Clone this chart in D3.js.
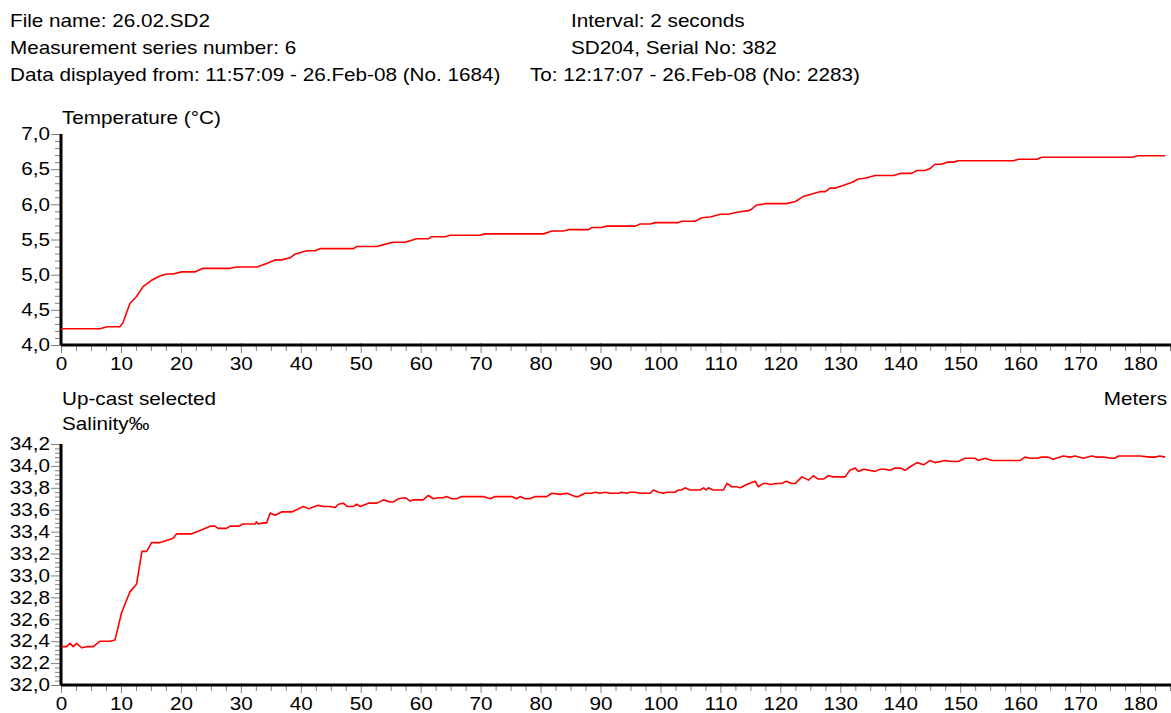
<!DOCTYPE html>
<html>
<head>
<meta charset="utf-8">
<script src="https://cdn.jsdelivr.net/npm/d3@7/dist/d3.min.js"></script>
<style>
  body { margin: 0; background: #fff; }
  svg text { font-family: Arial, 'Liberation Sans', sans-serif; fill: #000; }
</style>
</head>
<body>
<div id="chart"></div>
<script>
'use strict';

// header lines, as printed by the logger software
var headerLeft = [
  'File name: 26.02.SD2',
  'Measurement series number: 6',
  'Data displayed from: 11:57:09 - 26.Feb-08 (No. 1684)'
];
var headerRight = [
  'Interval: 2 seconds',
  'SD204, Serial No: 382',
  'To: 12:17:07 - 26.Feb-08 (No: 2283)'
];

var depthTicks = [0, 10, 20, 30, 40, 50, 60, 70, 80, 90, 100, 110, 120, 130, 140, 150, 160, 170, 180];
var tempTicks = [4.0, 4.5, 5.0, 5.5, 6.0, 6.5, 7.0];
var salTicks = [32.0, 32.2, 32.4, 32.6, 32.8, 33.0, 33.2, 33.4, 33.6, 33.8, 34.0, 34.2];

// temperature profile (depth m / deg C)
var tempDepth = [0, 6.5, 7.7, 9.8, 10.3, 11.5, 12.6, 13.7, 15.1, 16.5, 17.6, 18.7, 20.1, 22.4, 23.7, 28.2, 29.3, 32.7,
  34.3, 35.7, 36.8, 38.2, 39.0, 41.0, 42.4, 43.2, 48.8, 49.3, 52.7, 53.5, 55.4, 57.4, 58.5, 59.3, 61.3, 61.8, 64.1,
  64.9, 69.9, 70.7, 80.5, 81.9, 83.8, 84.6, 88.0, 88.5, 90.2, 91.0, 95.8, 96.6, 98.3, 99.1, 103.0, 103.5, 105.8,
  106.9, 108.3, 110.0, 111.3, 113.0, 114.7, 115.2, 116.0, 116.9, 117.7, 121.0, 122.5, 123.8, 126.6, 127.5, 128.3,
  129.1, 131.9, 133.0, 134.1, 135.8, 138.9, 140.0, 141.9, 142.8, 144.1, 145.0, 145.8, 146.9, 147.8, 148.9, 149.7,
  158.9, 159.7, 162.8, 163.6, 178.6, 179.7, 184.2];
var tempValue = [4.23, 4.23, 4.26, 4.26, 4.31, 4.59, 4.69, 4.83, 4.92, 4.98, 5.01, 5.01, 5.04, 5.04, 5.09, 5.09, 5.11, 5.11,
  5.16, 5.21, 5.21, 5.24, 5.29, 5.34, 5.34, 5.37, 5.37, 5.40, 5.40, 5.42, 5.46, 5.46, 5.49, 5.51, 5.51, 5.54, 5.54,
  5.56, 5.56, 5.58, 5.58, 5.62, 5.62, 5.64, 5.64, 5.67, 5.67, 5.69, 5.69, 5.72, 5.72, 5.74, 5.74, 5.76, 5.76,
  5.81, 5.82, 5.86, 5.86, 5.89, 5.91, 5.93, 5.99, 6.00, 6.01, 6.01, 6.04, 6.11, 6.18, 6.18, 6.23,
  6.23, 6.31, 6.36, 6.37, 6.41, 6.41, 6.44, 6.44, 6.48, 6.48, 6.51, 6.57, 6.57, 6.60, 6.60, 6.62,
  6.62, 6.64, 6.64, 6.67, 6.67, 6.69, 6.69];

// salinity profile (depth m / permille)
var salDepth = [0.1, 0.95, 1.5, 2.05, 2.6, 3.45, 4.3, 5.4, 6.5, 8.2, 9.0, 10.1, 11.5, 12.6, 13.5, 14.3, 15.1, 16.5, 17.6,
  18.2, 18.7, 19.3, 21.8, 23.2, 24.9, 25.7, 26.2, 27.6, 28.2, 29.6, 30.4, 32.4, 32.6, 32.9, 33.8, 34.3, 34.9, 35.7,
  36.8, 38.5, 39.3, 40.4, 41.3, 42.9, 43.8, 44.9, 45.7, 46.3, 47.1, 47.7, 48.8, 49.3, 49.9, 51.3, 52.7, 53.8, 54.9,
  55.4, 56.3, 57.4, 58.2, 58.8, 60.4, 61.3, 62.1, 62.9, 63.8, 64.3, 65.2, 66.0, 66.8, 70.4, 71.6, 72.4, 75.2, 76.0,
  76.6, 77.4, 78.2, 79.1, 81.0, 81.9, 83.3, 84.4, 85.8, 86.3, 87.4, 88.5, 89.1, 89.9, 90.8, 91.6, 93.0, 93.5, 94.4,
  94.9, 95.8, 96.6, 98.3, 98.8, 99.7, 100.5, 101.0, 102.4, 103.0, 103.5, 104.1, 104.9, 106.6, 107.2, 107.6, 108.0,
  108.8, 110.5, 111.1, 111.9, 112.7, 113.3, 114.4, 115.8, 116.3, 117.2, 117.7, 118.3, 119.4, 120.2, 121.0, 121.9,
  122.5, 123.6, 124.7, 125.5, 126.3, 127.2, 128.0, 128.8, 130.8, 131.6, 132.5, 133.0, 133.9, 135.8, 136.6, 137.5,
  138.3, 139.1, 140.0, 140.8, 141.6, 142.8, 143.9, 145.0, 145.8, 147.5, 148.6, 149.7, 150.8, 152.5, 153.0, 154.2,
  155.3, 160.0, 160.8, 161.7, 162.8, 163.6, 164.7, 165.5, 167.2, 168.3, 169.2, 170.5, 171.9, 172.8, 173.9, 175.3,
  175.8, 176.4, 180.0, 181.7, 182.5, 183.3, 184.2];
var salValue = [32.35, 32.35, 32.38, 32.35, 32.38, 32.34, 32.35, 32.35, 32.40, 32.40, 32.41, 32.66, 32.85, 32.92, 33.22, 33.22, 33.30, 33.30, 33.32,
  33.33, 33.34, 33.38, 33.38, 33.41, 33.45, 33.45, 33.43, 33.43, 33.45, 33.45, 33.47, 33.47, 33.49, 33.47, 33.48, 33.48, 33.57, 33.55,
  33.58, 33.58, 33.60, 33.63, 33.61, 33.64, 33.63, 33.63, 33.62, 33.65, 33.66, 33.63, 33.63, 33.65, 33.63, 33.66, 33.66, 33.69, 33.67,
  33.67, 33.70, 33.71, 33.68, 33.69, 33.69, 33.73, 33.70, 33.71, 33.71, 33.72, 33.70, 33.70, 33.72, 33.72, 33.70, 33.72, 33.72, 33.70,
  33.72, 33.70, 33.70, 33.72, 33.72, 33.75, 33.74, 33.75, 33.72, 33.72, 33.75, 33.75, 33.76, 33.75, 33.76, 33.75, 33.75, 33.76, 33.75,
  33.76, 33.76, 33.75, 33.75, 33.78, 33.76, 33.75, 33.76, 33.76, 33.78, 33.78, 33.80, 33.78, 33.78, 33.80, 33.78, 33.80,
  33.78, 33.78, 33.84, 33.81, 33.81, 33.80, 33.83, 33.86, 33.81, 33.84, 33.84, 33.83, 33.84, 33.84, 33.86, 33.84,
  33.84, 33.90, 33.87, 33.91, 33.88, 33.88, 33.91, 33.90, 33.90, 33.96, 33.98, 33.95, 33.97, 33.95, 33.97, 33.97,
  33.96, 33.98, 33.98, 33.96, 33.99, 34.03, 34.01, 34.05, 34.03, 34.05, 34.04, 34.04, 34.07, 34.07, 34.05, 34.07,
  34.05, 34.05, 34.08, 34.07, 34.07, 34.08, 34.08, 34.06, 34.09, 34.08, 34.09, 34.07, 34.09, 34.08, 34.08, 34.07,
  34.07, 34.09, 34.09, 34.08, 34.08, 34.09, 34.08];

var width = 1171, height = 713;
var fontSize = 18;
var stretchX = 1.15; // the original output has wide-set lettering

var svg = d3.select('#chart').append('svg')
  .attr('width', width)
  .attr('height', height);

var comma = function (f) {
  return function (v) { return f(v).replace('.', ','); };
};

// move x/y into a transform so the glyphs can be widened around their anchor
function stretch(sel) {
  sel.each(function () {
    var t = d3.select(this);
    var tx = +t.attr('x') || 0;
    var ty = +t.attr('y') || 0;
    t.attr('x', 0).attr('y', 0)
      .attr('transform', 'translate(' + tx + ',' + ty + ') scale(' + stretchX + ',1)');
  });
}

function label(x, y, txt, anchor) {
  svg.append('text')
    .attr('x', x).attr('y', y)
    .attr('font-size', fontSize)
    .attr('text-anchor', anchor || 'start')
    .text(txt)
    .call(stretch);
}

// header block
headerLeft.forEach(function (d, i) { label(10, 27 + i * 27, d); });
headerRight.forEach(function (d, i) { label(i == 2 ? 530 : 571, 27 + i * 27, d); });

var x = d3.scaleLinear().domain([0, 185]).range([61, 1170]);

function minorTicks(lo, hi, step, majors) {
  var out = [];
  var n = Math.round((hi - lo) / step);
  for (var i = 0; i <= n; i++) {
    var v = +(lo + i * step).toFixed(4);
    var isMajor = majors.some(function (m) { return Math.abs(m - v) < 1e-6; });
    if (!isMajor) out.push(v);
  }
  return out;
}

function drawPanel(opts) {
  var y = d3.scaleLinear().domain(opts.domain).range([opts.bottom, opts.top]);
  var g = svg.append('g');

  // x minor + major ticks
  g.append('g')
    .attr('transform', 'translate(0,' + (opts.bottom + 1) + ')')
    .call(d3.axisBottom(x).tickValues(minorTicks(0, 185, 2.5, depthTicks)).tickSize(5).tickFormat(''))
    .call(function (a) { a.select('.domain').remove(); a.selectAll('line').attr('stroke', '#808080'); });

  g.append('g')
    .attr('transform', 'translate(0,' + (opts.bottom - 2) + ')')
    .call(d3.axisBottom(x).tickValues(depthTicks).tickSize(10).tickPadding(4).tickFormat(d3.format('d')))
    .call(function (a) {
      a.select('.domain').remove();
      a.selectAll('line').attr('stroke', '#808080');
      a.selectAll('text').attr('font-size', fontSize).attr('font-family', null).call(stretch);
    });

  // y minor + major ticks
  g.append('g')
    .attr('transform', 'translate(61,0)')
    .call(d3.axisLeft(y).tickValues(minorTicks(opts.domain[0], opts.domain[1], opts.minor, opts.ticks)).tickSize(6).tickFormat(''))
    .call(function (a) { a.select('.domain').remove(); a.selectAll('line').attr('stroke', '#808080'); });

  g.append('g')
    .attr('transform', 'translate(61,0)')
    .call(d3.axisLeft(y).tickValues(opts.ticks).tickSize(10).tickPadding(1).tickFormat(comma(d3.format('.1f'))))
    .call(function (a) {
      a.select('.domain').remove();
      a.selectAll('line').attr('stroke', '#808080');
      a.selectAll('text').attr('font-size', fontSize).attr('font-family', null).call(stretch);
    });

  // thick axis lines
  g.append('line')
    .attr('x1', 61).attr('x2', 61)
    .attr('y1', opts.top).attr('y2', opts.bottom)
    .attr('stroke', '#000').attr('stroke-width', 3);
  g.append('line')
    .attr('x1', 61).attr('x2', width)
    .attr('y1', opts.bottom).attr('y2', opts.bottom)
    .attr('stroke', '#000').attr('stroke-width', 3);

  var line = d3.line()
    .x(function (d) { return x(d[0]); })
    .y(function (d) { return y(d[1]); });

  g.append('path')
    .datum(d3.zip(opts.depth, opts.value))
    .attr('d', line)
    .attr('fill', 'none')
    .attr('stroke', '#ff0000')
    .attr('stroke-width', 1.6)
    .attr('stroke-linejoin', 'round');

  return y;
}

label(62, 124, 'Temperature (°C)');

drawPanel({
  domain: [4, 7], top: 134, bottom: 345,
  ticks: tempTicks, minor: 0.1,
  depth: tempDepth, value: tempValue
});

label(62, 405, 'Up-cast selected');
label(1167, 405, 'Meters', 'end');
label(62, 430, 'Salinity‰');

drawPanel({
  domain: [32, 34.2], top: 444, bottom: 685,
  ticks: salTicks, minor: 0.04,
  depth: salDepth, value: salValue
});
</script>
</body>
</html>
